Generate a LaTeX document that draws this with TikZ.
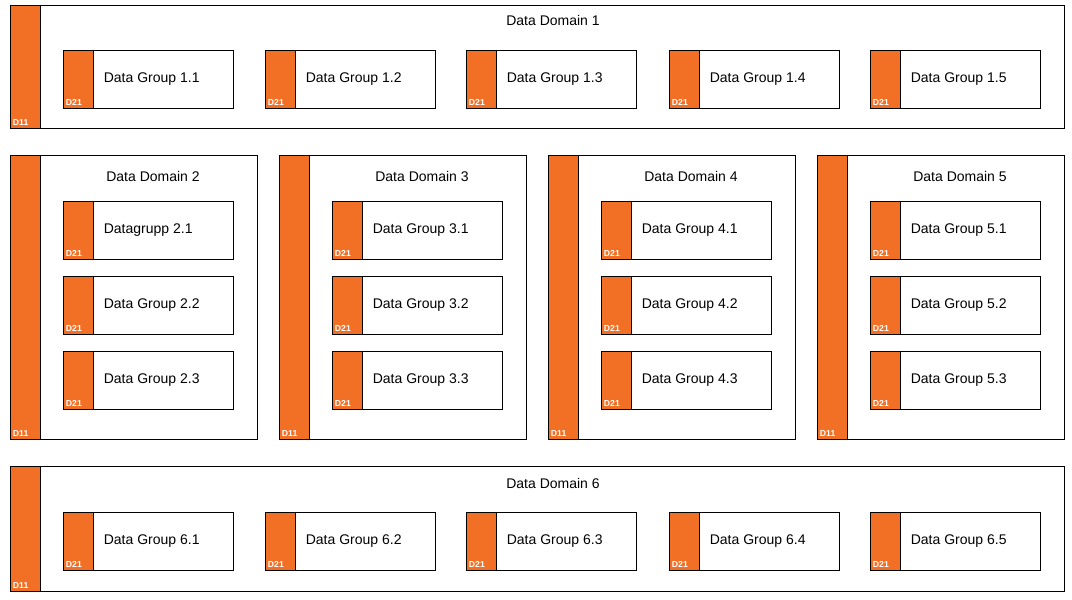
\documentclass[tikz,border=0pt]{standalone}
\usepackage{fontspec}
\setmainfont{Liberation Sans}
\definecolor{dorange}{RGB}{242,112,38}
\tikzset{
  box/.style={draw, line width=0.6pt, anchor=north west, inner sep=0pt},
  tag/.style={fill=dorange, draw=black, line width=0.6pt, anchor=north west, inner sep=0pt, minimum width=30*0.75pt},
  tagtext/.style={text=white, font=\bfseries\fontsize{6.5}{7}\selectfont, anchor=south west, inner sep=2pt},
  grouptext/.style={font=\fontsize{10.5}{12}\selectfont, anchor=west},
  titletext/.style={font=\fontsize{10.5}{12}\selectfont}
}
\newcommand{\dgroup}[4]{% name, x, y, label
  \node[box, minimum width=170*0.75pt, minimum height=58*0.75pt] (#1) at (#2,#3) {};
  \node[tag, minimum height=58*0.75pt] (#1t) at (#1.north west) {};
  \node[tagtext] at (#1t.south west) {D21};
  \node[grouptext] at ([xshift=4pt]#1t.east) {#4};
}
\newcommand{\ddomain}[5]{% name, x, y, width, height
  \node[box, minimum width=#4*0.75pt, minimum height=#5*0.75pt] (#1) at (#2,#3) {};
  \node[tag, minimum height=#5*0.75pt] (#1t) at (#1.north west) {};
  \node[tagtext] at (#1t.south west) {D11};
}
\begin{document}
\begin{tikzpicture}[x=0.75pt, y=-0.75pt]
  \useasboundingbox (0,0) rectangle (1072,600);
  % top domain
  \ddomain{d1}{10}{5}{1054}{123}
  \node[titletext] (t1) at (553,20) {Data Domain 1};
  \foreach \x/\i in {63/1,265/2,466/3,669/4,870/5}
    \dgroup{g1\i}{\x}{50}{Data Group 1.\i};
  % middle domains
  \foreach \x/\d in {10/2,279/3,548/4,817/5}{
    \ddomain{d\d}{\x}{155}{247}{284}
    \node[titletext] (t\d) at (\x+143,176) {Data Domain \d};
  }
  \dgroup{g21}{63}{201}{Datagrupp 2.1}
  \dgroup{g22}{63}{276}{Data Group 2.2}
  \dgroup{g23}{63}{351}{Data Group 2.3}
  \foreach \x/\d in {279/3,548/4,817/5}
    \foreach \y/\i in {201/1,276/2,351/3}
      \dgroup{g\d\i}{\x+53}{\y}{Data Group \d.\i};
  % bottom domain
  \ddomain{d6}{10}{466}{1054}{125}
  \node[titletext] (t6) at (553,483) {Data Domain 6};
  \foreach \x/\i in {63/1,265/2,466/3,669/4,870/5}
    \dgroup{g6\i}{\x}{512}{Data Group 6.\i};
\end{tikzpicture}
\end{document}
